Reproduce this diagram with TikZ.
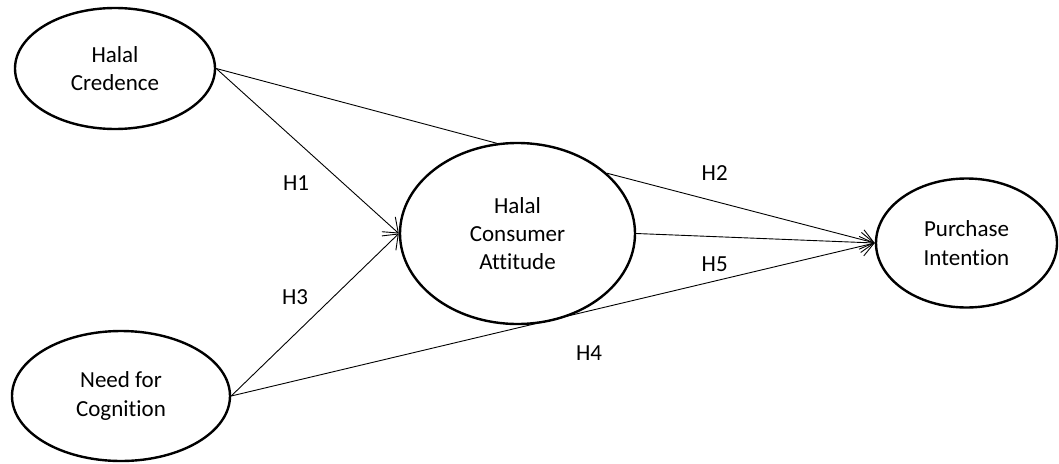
\documentclass[tikz,border=0pt]{standalone}
\usepackage{fontspec}
\setmainfont{Carlito}[Ligatures=NoCommon]
\usetikzlibrary{shapes.geometric,arrows.meta}
\begin{document}
\begin{tikzpicture}[x=1pt,y=-1pt,
  construct/.style={draw, ellipse, line width=2.4pt, inner sep=0pt, align=center,
    font=\fontsize{23}{28.3}\selectfont},
  path/.style={line width=0.9pt, -{Straight Barb[length=13pt,width=20pt,line width=0.9pt]}},
  plain/.style={line width=0.9pt},
  hlabel/.style={anchor=base, inner sep=0pt, font=\fontsize{23}{28.3}\selectfont}]
\useasboundingbox (0,0) rectangle (1059,463);
\node[construct, minimum width=200pt, minimum height=121pt] (cred) at (115,68.5) {Halal\\Credence};
\node[construct, minimum width=218pt, minimum height=130pt] (need) at (121,396) {Need for\\Cognition};
\node[construct, minimum width=235pt, minimum height=181pt] (att) at (517.5,233.5) {Halal\\Consumer\\Attitude};
\node[construct, minimum width=181pt, minimum height=129pt] (pur) at (966.5,243) {Purchase\\Intention};
\draw[plain] (cred.east) -- (att.103);
\draw[path] (cred.east) -- (att.west);
\draw[path] (need.east) -- (att.west);
\draw[path] (need.east) -- (pur.west);
\draw[path] (att.east) -- (pur.west);
\draw[path] (att.34) -- (pur.west);
\node[hlabel] (h1) at (296,190) {H1};
\node[hlabel] (h3) at (295,304.7) {H3};
\node[hlabel] (h2) at (714.7,180) {H2};
\node[hlabel] (h5) at (714.7,271.7) {H5};
\node[hlabel] (h4) at (589,360.7) {H4};
\end{tikzpicture}
\end{document}
